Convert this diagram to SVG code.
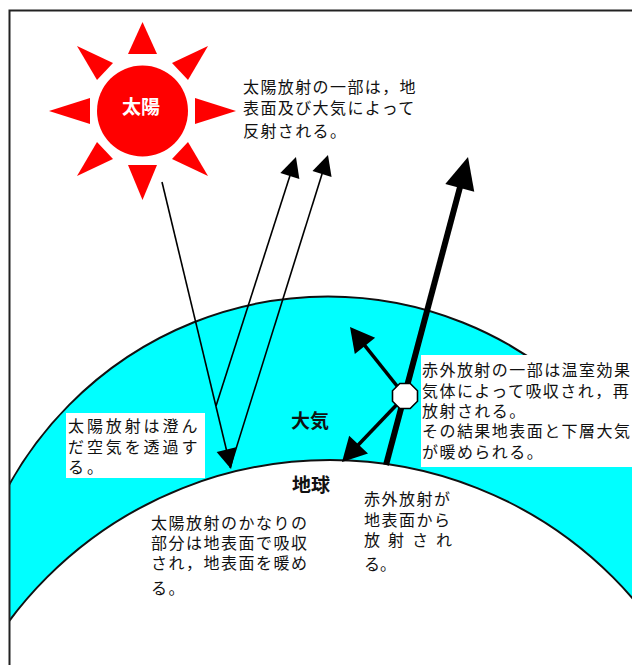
<svg xmlns="http://www.w3.org/2000/svg" width="632" height="665" viewBox="0 0 632 665">
  <style>
    .txt { font-family: "Noto Sans CJK JP", "Noto Sans", sans-serif; font-size: 16px; fill: #111; }
    .lbl { font-family: "Noto Sans CJK JP", "Noto Sans", sans-serif; font-size: 19px; font-weight: bold; fill: #111; }
    .ray { fill: #ff0000; }
    .thin { stroke: #000; stroke-width: 1.6; fill: none; }
    .mid { stroke: #000; stroke-width: 3.5; fill: none; }
    .thick { stroke: #000; stroke-width: 6; fill: none; }
    .box { fill: #fff; }
  </style>
  <defs>
    <clipPath id="frameClip">
      <rect x="9" y="10" width="623" height="655"/>
    </clipPath>
    <marker id="ah20" markerUnits="userSpaceOnUse" markerWidth="20" markerHeight="20" refX="10" refY="10" orient="auto" overflow="visible">
      <path d="M0,0 L20,10 L0,20 z" fill="#000"/>
    </marker>
    <marker id="ah24" markerUnits="userSpaceOnUse" markerWidth="24" markerHeight="26" refX="12" refY="13" orient="auto" overflow="visible">
      <path d="M0,0 L24,13 L0,26 z" fill="#000"/>
    </marker>
    <marker id="ah32" markerUnits="userSpaceOnUse" markerWidth="32" markerHeight="30" refX="16" refY="15" orient="auto" overflow="visible">
      <path d="M0,0 L32,15 L0,30 z" fill="#000"/>
    </marker>
  </defs>

  <rect x="0" y="0" width="632" height="665" fill="#fff"/>

  <!-- atmosphere layer and earth surface -->
  <g id="atmosphere" clip-path="url(#frameClip)">
    <ellipse cx="328" cy="666.5" rx="366" ry="370" fill="#00ffff" stroke="#111" stroke-width="2"/>
    <circle id="earth" cx="330" cy="860" r="400" fill="#fff" stroke="#111" stroke-width="2"/>
  </g>

  <!-- frame -->
  <path d="M9.5,665 V10.5 H632" fill="none" stroke="#222" stroke-width="2"/>

  <!-- sun -->
  <g id="sun">
    <polygon class="ray" points="142.5,22 128,54 157,54"/>
    <polygon class="ray" points="142.5,200 128,165 157,165"/>
    <polygon class="ray" points="49,111 90,98 90,124"/>
    <polygon class="ray" points="236,111 195,98 195,124"/>
    <polygon class="ray" points="77,46 113,63 97,80"/>
    <polygon class="ray" points="208,46 172,63 188,80"/>
    <polygon class="ray" points="77,176 113,159 97,142"/>
    <polygon class="ray" points="208,176 172,159 188,142"/>
    <circle cx="142.5" cy="111" r="45.5" fill="#ff0000"/>
    <text x="141" y="114" text-anchor="middle" class="lbl" style="fill:#fff">太陽</text>
  </g>

  <!-- connectors -->
  <g id="connectors">
    <path class="thin" d="M162,182 L228.7,459.3" marker-end="url(#ah20)"/>
    <path class="thin" d="M216,406 L292.9,166.5" marker-end="url(#ah20)"/>
    <path class="thin" d="M230,468 L325,164.5" marker-end="url(#ah20)"/>
    <path class="thick" d="M386,465 L463.9,172.5" marker-end="url(#ah32)"/>
    <path class="mid" d="M405,396 L357.5,336.4" marker-end="url(#ah24)"/>
    <path class="mid" d="M405,396 L350.3,453.3" marker-end="url(#ah24)"/>
  </g>

  <!-- absorption point in the atmosphere -->
  <g id="absorber">
    <polygon points="417.5,401.2 410.2,408.5 399.8,408.5 392.5,401.2 392.5,390.8 399.8,383.5 410.2,383.5 417.5,390.8" fill="#fff" stroke="#000" stroke-width="1.6"/>
  </g>

  <!-- labels -->
  <g id="label-atmosphere">
    <text x="291" y="428" class="lbl">大気</text>
  </g>
  <g id="label-earth">
    <text x="292" y="492" class="lbl">地球</text>
  </g>

  <g id="note-reflection">
    <text class="txt" style="letter-spacing:1.4px">
      <tspan x="243" y="92.5">太陽放射の一部は，地</tspan>
      <tspan x="243" y="114">表面及び大気によって</tspan>
      <tspan x="243" y="136.5">反射される。</tspan>
    </text>
  </g>

  <g id="note-transmission">
    <rect class="box" x="66" y="413" width="139" height="65"/>
    <text class="txt" style="letter-spacing:2.9px">
      <tspan x="68" y="432">太陽放射は澄ん</tspan>
      <tspan x="68" y="453">だ空気を透過す</tspan>
      <tspan x="68" y="473">る。</tspan>
    </text>
  </g>

  <g id="note-absorption">
    <text class="txt" style="letter-spacing:1.5px">
      <tspan x="151" y="529">太陽放射のかなりの</tspan>
      <tspan x="151" y="549">部分は地表面で吸収</tspan>
      <tspan x="151" y="569">され，地表面を暖め</tspan>
      <tspan x="151" y="594">る。</tspan>
    </text>
  </g>

  <g id="note-emission">
    <text class="txt" style="letter-spacing:1.5px">
      <tspan x="364" y="504.5">赤外放射が</tspan>
      <tspan x="364" y="525.5">地表面から</tspan>
    </text>
    <text class="txt" x="364" y="546" textLength="88" lengthAdjust="spacing">放 射 さ れ</text>
    <text class="txt" x="364" y="570">る。</text>
  </g>

  <g id="note-greenhouse">
    <rect class="box" x="421" y="355" width="211" height="112"/>
    <text class="txt" style="letter-spacing:1.45px">
      <tspan x="422" y="376">赤外放射の一部は温室効果</tspan>
      <tspan x="422" y="396.5">気体によって吸収され，再</tspan>
      <tspan x="422" y="417">放射される。</tspan>
      <tspan x="422" y="437">その結果地表面と下層大気</tspan>
      <tspan x="422" y="457.5">が暖められる。</tspan>
    </text>
  </g>
</svg>
